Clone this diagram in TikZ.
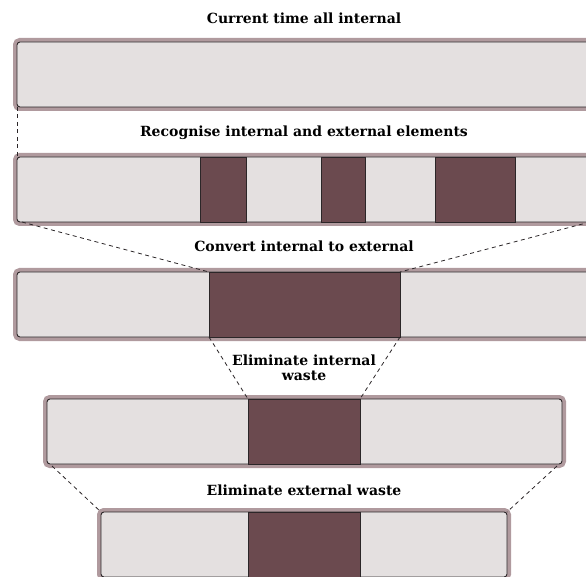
\documentclass[tikz,border=0pt]{standalone}
\usepackage{fontspec}
\setmainfont{DejaVu Serif}
\definecolor{barfill}{HTML}{E4E0E0}
\definecolor{barrim}{HTML}{B09A9E}
\definecolor{block}{HTML}{6B4A4F}
\definecolor{edge}{HTML}{2B2628}
\tikzset{
  bar/.style={draw=edge, line width=0.9pt, fill=barfill, rounded corners=3pt,
    inner sep=0pt, outer sep=0pt, anchor=north west, minimum height=65pt,
    preaction={draw=barrim, line width=8pt}},
  inblock/.style={draw=edge, line width=0.9pt, fill=block, inner sep=0pt,
    outer sep=0pt, anchor=north west, minimum height=65pt},
  caption/.style={font=\bfseries\fontsize{14}{15}\selectfont, inner sep=0pt,
    anchor=base, align=center},
  guide/.style={draw=edge, line width=0.8pt, dash pattern=on 4pt off 3.5pt}
}
\begin{document}
\begin{tikzpicture}[x=1pt, y=-1pt]
  \useasboundingbox (0,0) rectangle (586,577);
  \clip (0,0) rectangle (586,577);

  % stage 1
  \node[caption] (t1) at (304,24) {Current time all internal};
  \node[bar, minimum width=573pt] (b1) at (17,42) {};

  % stage 2
  \node[caption] (t2) at (304,137) {Recognise internal and external elements};
  \node[bar, minimum width=573pt] (b2) at (17,157) {};
  \node[inblock, minimum width=46.5pt] (k2a) at (200,157) {};
  \node[inblock, minimum width=43.3pt] (k2b) at (321.7,157) {};
  \node[inblock, minimum width=80.7pt] (k2c) at (435,157) {};

  % stage 3
  \node[caption] (t3) at (304,252) {Convert internal to external};
  \node[bar, minimum width=573pt] (b3) at (17,272) {};
  \node[inblock, minimum width=191pt] (k3) at (209,272) {};

  % stage 4 (two-line caption: base anchor sits on the last line)
  \node[caption] (t4) at (304,380) {Eliminate internal\\waste};
  \node[bar, minimum width=515pt] (b4) at (47,399) {};
  \node[inblock, minimum width=112pt] (k4) at (248,399) {};

  % stage 5
  \node[caption] (t5) at (304,495) {Eliminate external waste};
  \node[bar, minimum width=406pt] (b5) at (101,512) {};
  \node[inblock, minimum width=112pt] (k5) at (248,512) {};

  % guide lines between stages
  \coordinate (b2sw) at ([xshift=5pt]b2.south west);
  \coordinate (b4sw) at ([xshift=5pt,yshift=-2pt]b4.south west);
  \coordinate (b4se) at ([xshift=-5pt,yshift=-2pt]b4.south east);
  \draw[guide] (b1.south west) -- (b2.north west);
  \draw[guide] (b2sw) -- (k3.north west);
  \draw[guide] (b2.south east) -- (k3.north east);
  \draw[guide] (k3.south west) -- (k4.north west);
  \draw[guide] (k3.south east) -- (k4.north east);
  \draw[guide] (b4sw) -- (b5.north west);
  \draw[guide] (b4se) -- (b5.north east);
\end{tikzpicture}
\end{document}
